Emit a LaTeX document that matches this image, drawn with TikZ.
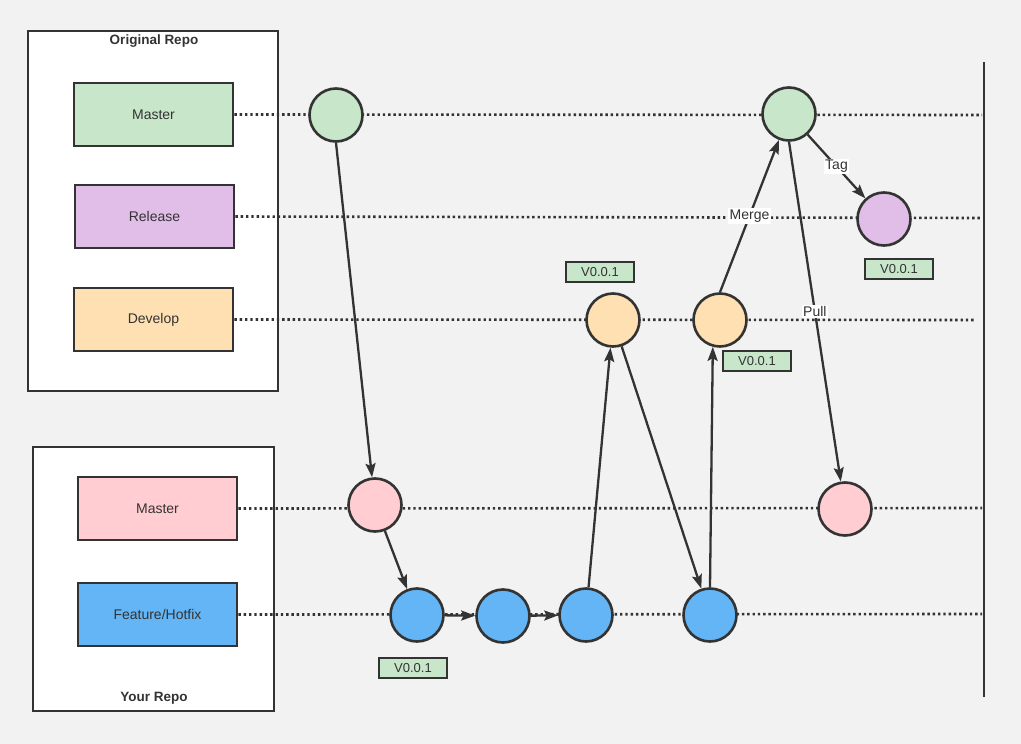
\documentclass[tikz,border=0pt]{standalone}
\usepackage{fontspec}
\setmainfont{Liberation Sans}
\usetikzlibrary{arrows.meta}
\definecolor{bg}{HTML}{F2F2F2}
\definecolor{ln}{HTML}{333333}
\definecolor{cgreen}{HTML}{C8E6C9}
\definecolor{cpurple}{HTML}{E1BEE7}
\definecolor{corange}{HTML}{FFE0B2}
\definecolor{cpink}{HTML}{FFCDD2}
\definecolor{cblue}{HTML}{64B5F6}
\begin{document}
\begin{tikzpicture}[x=1pt,y=-1pt,
  every node/.style={font=\fontsize{14}{16}\selectfont, text=ln},
  repo/.style={draw=ln, line width=2.8pt, fill=white},
  branch/.style={draw=ln, line width=2.8pt, minimum width=159pt, minimum height=63pt, inner sep=0pt},
  commit/.style={circle, draw=ln, line width=2.6pt, minimum size=53pt, inner sep=0pt},
  vtag/.style={draw=ln, line width=2.6pt, fill=cgreen, minimum width=68pt, minimum height=20pt, inner sep=0pt, font=\fontsize{13}{14}\selectfont},
  guide/.style={draw=ln, line width=2.6pt, dash pattern=on 2.4pt off 2.9pt},
  flow/.style={draw=ln, line width=2.3pt, -{Stealth[length=14pt,width=10pt,inset=2.5pt]}},
  elab/.style={fill=white, inner sep=1.5pt, font=\fontsize{14}{15}\selectfont}]
\fill[bg] (0,0) rectangle (1021,744);
\useasboundingbox (0,0) rectangle (1021,744);

% repo frames
\draw[repo] (28,31) rectangle (278,391);
\node[font=\bfseries\fontsize{13.5}{15}\selectfont] (origT) at (154,41) {Original Repo};
\draw[repo] (33,447) rectangle (274,711);
\node[font=\bfseries\fontsize{13.5}{15}\selectfont] (yourT) at (154,698) {Your Repo};

% branch boxes
\node[branch, fill=cgreen] (bmaster) at (153.5,114.5) {Master};
\node[branch, fill=cpurple] (brelease) at (154.5,216.5) {Release};
\node[branch, fill=corange] (bdevelop) at (153.5,319.5) {Develop};
\node[branch, fill=cpink] (bymaster) at (157.5,508.5) {Master};
\node[branch, fill=cblue] (bfeature) at (157.5,614.5) {Feature/Hotfix};

% timeline end
\coordinate (vt) at (984,62);
\coordinate (vb) at (984,697);
\draw[ln, line width=2.8pt] (vt) -- (vb);

% guide lines ends
\coordinate (e1) at (982,115);
\coordinate (e2) at (982,218);
\coordinate (e3) at (976,320);
\coordinate (e4) at (982,508);
\coordinate (e5) at (982,614);
\draw[guide] (bmaster.east) -- (e1);
\draw[guide] (brelease.east) -- (e2);
\draw[guide] (bdevelop.east) -- (e3);
\draw[guide] (bymaster.east) -- (e4);
\draw[guide] (bfeature.east) -- (e5);

% commits
\node[commit, fill=cgreen] (G1) at (336,115) {};
\node[commit, fill=cgreen] (G2) at (789,114) {};
\node[commit, fill=cpurple] (P1) at (884,219) {};
\node[commit, fill=corange] (O1) at (613,320) {};
\node[commit, fill=corange] (O2) at (720,320) {};
\node[commit, fill=cpink] (R1) at (375,505) {};
\node[commit, fill=cpink] (R2) at (845,509) {};
\node[commit, fill=cblue] (B1) at (417,615) {};
\node[commit, fill=cblue] (B2) at (503,616) {};
\node[commit, fill=cblue] (B3) at (586,615) {};
\node[commit, fill=cblue] (B4) at (710,615) {};

% version tags
\node[vtag] (t1) at (600,272) {V0.0.1};
\node[vtag] (t2) at (899,269) {V0.0.1};
\node[vtag] (t3) at (757,361) {V0.0.1};
\node[vtag] (t4) at (413,668) {V0.0.1};

% connectors
\draw[flow] (G1.south) -- (R1);
\draw[flow] (R1) -- (B1);
\draw[flow] (B1) -- (B2);
\draw[flow] (B2) -- (B3);
\draw[flow] (B3) -- (O1);
\draw[flow] (O1) -- (B4);
\draw[flow] (B4.north) -- (O2.255);
\draw[flow] (O2.north) -- node[elab] {Merge} (G2);
\draw[flow] (G2) -- node[elab] {Tag} (P1);
\draw[flow] (G2.south) -- node[elab] {Pull} (R2);
\end{tikzpicture}
\end{document}
